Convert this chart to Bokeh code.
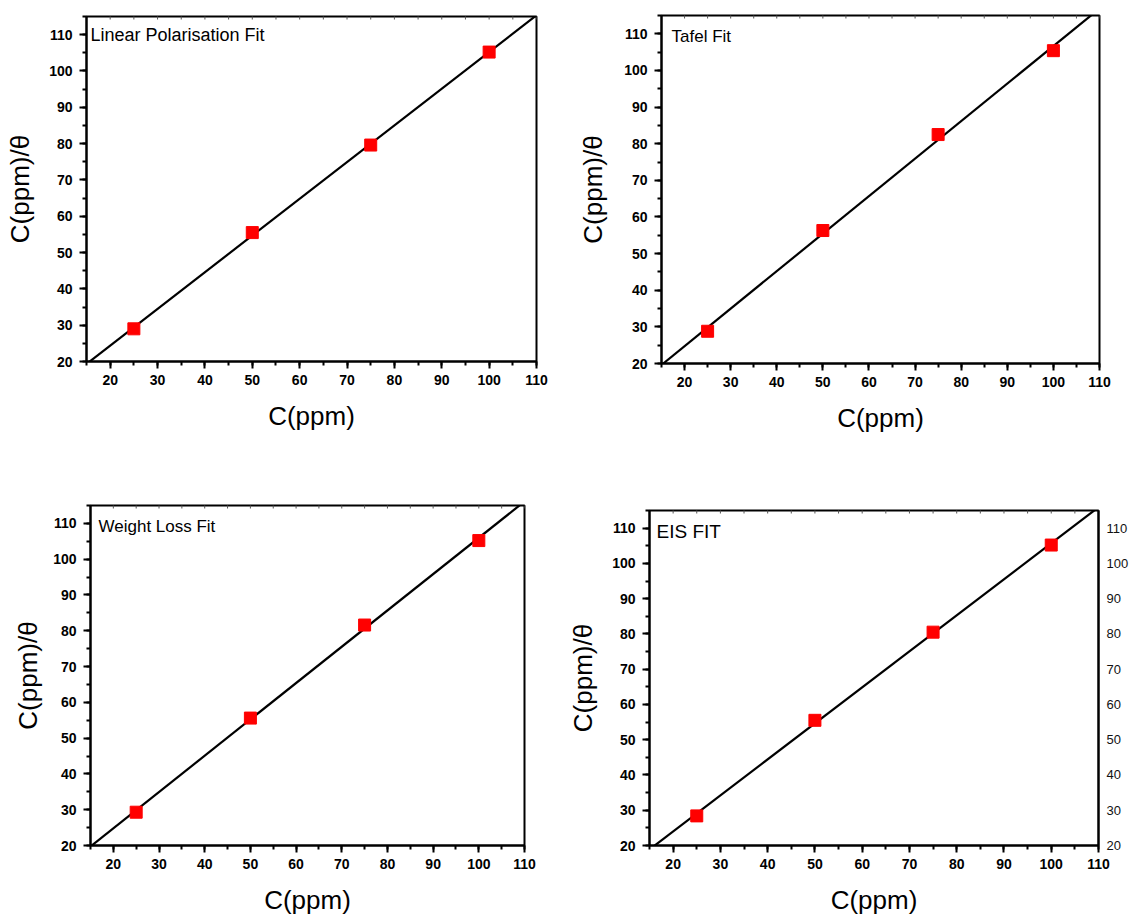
import numpy as np
from bokeh.plotting import figure
from bokeh.layouts import column, row
from bokeh.models import (LinearAxis, SingleIntervalTicker, Label, Range1d)
from bokeh.embed import file_html
from bokeh.resources import INLINE

# ---------------- data ----------------
conc = [25, 50, 75, 100]
lp_vals = [29.0, 55.5, 79.6, 105.2]
tafel_vals = [28.8, 56.3, 82.5, 105.4]
wl_vals = [29.3, 55.6, 81.6, 105.2]
eis_vals = [28.4, 55.5, 80.5, 105.2]

titles = ["Linear Polarisation Fit", "Tafel Fit", "Weight Loss Fit", "EIS FIT"]
x_label = "C(ppm)"
y_label = "C(ppm)/\u03b8"
x_lim = (15, 110)
y_lim = (20, 115)
top_ticks = list(range(15, 111, 5))

FONT = "Liberation Sans"


def make_panel(vals, title, width, height, bl, br, bt, bb, ylab_standoff,
               title_dx, title_dy, title_size, right_axis=False):
    p = figure(width=width, height=height, output_backend="svg",
               toolbar_location=None,
               x_range=Range1d(*x_lim), y_range=Range1d(*y_lim),
               min_border_left=bl, min_border_right=br,
               min_border_top=bt, min_border_bottom=bb)
    p.background_fill_color = "white"
    p.border_fill_color = "white"
    p.xgrid.visible = False
    p.ygrid.visible = False
    p.outline_line_color = "black"
    p.outline_line_width = 2
    p.outline_line_alpha = 1

    # small inward ticks along the top frame
    p.scatter(top_ticks, [y_lim[1]] * len(top_ticks), marker="dash", angle=np.pi / 2,
              size=6, line_color="#555555", line_width=1)

    # fit line from data
    slope, icpt = np.polyfit(conc, vals, 1)
    xs = np.array(x_lim, dtype=float)
    p.line(xs, slope * xs + icpt, line_color="black", line_width=2.2)
    p.scatter(conc, vals, marker="square", size=12,
              fill_color="#ff0000", line_color="#ff0000")

    for ax in (p.xaxis[0], p.yaxis[0]):
        ax.ticker = SingleIntervalTicker(interval=10, num_minor_ticks=2)
        ax.axis_line_color = "black"
        ax.axis_line_width = 2
        ax.major_tick_line_color = "black"
        ax.major_tick_line_width = 2
        ax.minor_tick_line_color = "black"
        ax.minor_tick_line_width = 2
        ax.major_tick_out = 7
        ax.major_tick_in = 0
        ax.minor_tick_out = 4
        ax.minor_tick_in = 0
        ax.major_label_text_font = FONT
        ax.major_label_text_font_style = "bold"
        ax.major_label_text_font_size = "14px"
        ax.major_label_text_color = "black"
        ax.axis_label_text_font = FONT
        ax.axis_label_text_font_style = "normal"
        ax.axis_label_text_color = "black"
    p.xaxis[0].axis_label = x_label
    p.xaxis[0].axis_label_text_font_size = "26px"
    p.xaxis[0].major_label_standoff = 6
    p.xaxis[0].axis_label_standoff = 13
    p.yaxis[0].axis_label = y_label
    p.yaxis[0].axis_label_text_font_size = "26px"
    p.yaxis[0].major_label_standoff = 7
    p.yaxis[0].axis_label_standoff = ylab_standoff

    if right_axis:
        ra = LinearAxis(ticker=SingleIntervalTicker(interval=10, num_minor_ticks=0),
                        major_tick_in=0, major_tick_out=0,
                        minor_tick_in=0, minor_tick_out=0,
                        major_label_standoff=8,
                        major_label_text_font=FONT,
                        major_label_text_font_style="normal",
                        major_label_text_font_size="13px",
                        major_label_text_color="#111111",
                        axis_line_color="black", axis_line_width=2)
        p.add_layout(ra, "right")

    p.add_layout(Label(x=x_lim[0], y=y_lim[1], x_offset=title_dx, y_offset=-title_dy,
                       text=title, text_font=FONT, text_font_size=title_size,
                       text_color="black", text_baseline="top", text_align="left"))
    return p


p1 = make_panel(lp_vals, titles[0], 575, 470, 86, 39, 16, 109, 11, 4, 8, "18px")
p2 = make_panel(tafel_vals, titles[1], 556, 470, 84, 32, 15, 107, 13, 10, 11, "17px")
p3 = make_panel(wl_vals, titles[2], 565, 447, 90, 41, 35, 72, 7, 8, 11, "17px")
p4 = make_panel(eis_vals, titles[3], 566, 447, 80, 30, 40, 72, 11, 7, 10, "19px",
                right_axis=True)

layout = column(row(column(p1), column(p2)), row(column(p3), column(p4)))
open("out.html", "w").write(file_html(layout, INLINE))
